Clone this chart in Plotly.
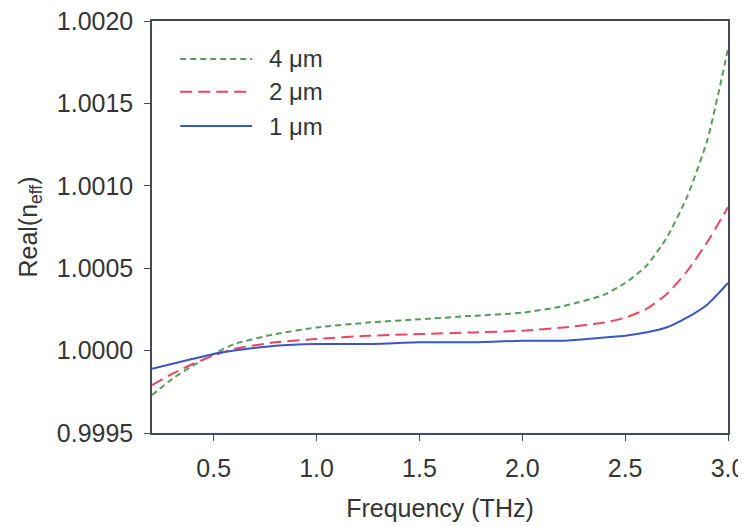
import plotly.graph_objects as go

freq = [0.2, 0.3, 0.4, 0.5, 0.6, 0.8, 1.0, 1.25, 1.5, 1.75, 2.0, 2.2, 2.4, 2.5, 2.6, 2.7, 2.8, 2.9, 3.0]
n_4um = [0.99973, 0.99983, 0.99991, 0.99998, 1.00004, 1.00010, 1.00014, 1.00017, 1.00019, 1.00021,
         1.00023, 1.00027, 1.00034, 1.00041, 1.00051, 1.00068, 1.00093, 1.00128, 1.00183]
n_2um = [0.99979, 0.99986, 0.99992, 0.99997, 1.00001, 1.00005, 1.00007, 1.00009, 1.00010, 1.00011,
         1.00012, 1.00014, 1.00017, 1.00020, 1.00025, 1.00034, 1.00048, 1.00066, 1.00087]
n_1um = [0.99989, 0.99992, 0.99995, 0.99998, 1.00000, 1.00003, 1.00004, 1.00004, 1.00005, 1.00005,
         1.00006, 1.00006, 1.00008, 1.00009, 1.00011, 1.00014, 1.00020, 1.00028, 1.00041]

series_names = ["4 μm", "2 μm", "1 μm"]
series_vals = [n_4um, n_2um, n_1um]
colors = ["#559c58", "#ea4660", "#3a55c8"]
dashes = ["6px,4px", "12px,6px", "solid"]

x_ticks = [0.5, 1.0, 1.5, 2.0, 2.5, 3.0]
y_ticks = [0.9995, 1.0000, 1.0005, 1.0010, 1.0015, 1.0020]

FONT = "Liberation Sans, Arial"
TXT = "#353535"

fig = go.Figure()
for name, vals, c, d in zip(series_names, series_vals, colors, dashes):
    fig.add_trace(go.Scatter(x=freq, y=vals, mode="lines", name=name,
                             line=dict(color=c, width=2, dash=d, shape="spline", smoothing=0.6),
                             showlegend=False))

# manual legend (long line samples like the original)
leg_y = [0.908, 0.828, 0.745]
for name, c, d, yy in zip(series_names, colors, dashes, leg_y):
    fig.add_shape(type="line", xref="paper", yref="paper", x0=0.049, x1=0.174, y0=yy, y1=yy,
                  line=dict(color=c, width=2, dash=d))
    fig.add_annotation(xref="paper", yref="paper", x=0.199, y=yy, text=name, showarrow=False,
                       xanchor="left", yanchor="middle",
                       font=dict(size=24, color=TXT, family=FONT))

axis_common = dict(showline=True, linecolor="#454a5a", linewidth=1.5, mirror=True,
                   ticks="outside", ticklen=6, tickcolor="#454a5a", showgrid=False, zeroline=False,
                   ticklabeloverflow="allow", automargin=False,
                   tickfont=dict(size=25, color=TXT, family=FONT))

fig.update_xaxes(range=[0.2, 3.0], tickvals=x_ticks, ticktext=[f"{v:.1f}" for v in x_ticks],
                 title=dict(text="Frequency (THz)", standoff=19,
                            font=dict(size=25, color=TXT, family=FONT)),
                 ticklabelstandoff=6, **axis_common)
fig.update_yaxes(range=[0.9995, 1.0020], tickvals=y_ticks, ticktext=[f"{v:.4f}" for v in y_ticks],
                 title=dict(text="Real(n<sub>eff</sub>)", standoff=12,
                            font=dict(size=25, color=TXT, family=FONT)),
                 ticklabelstandoff=6, **axis_common)

# the page body adds an 8px offset, so margins are set to compensate
fig.update_layout(width=746, height=526, margin=dict(l=144, r=26, t=13, b=101),
                  plot_bgcolor="white", paper_bgcolor="white")

fig.write_html("out.html")
